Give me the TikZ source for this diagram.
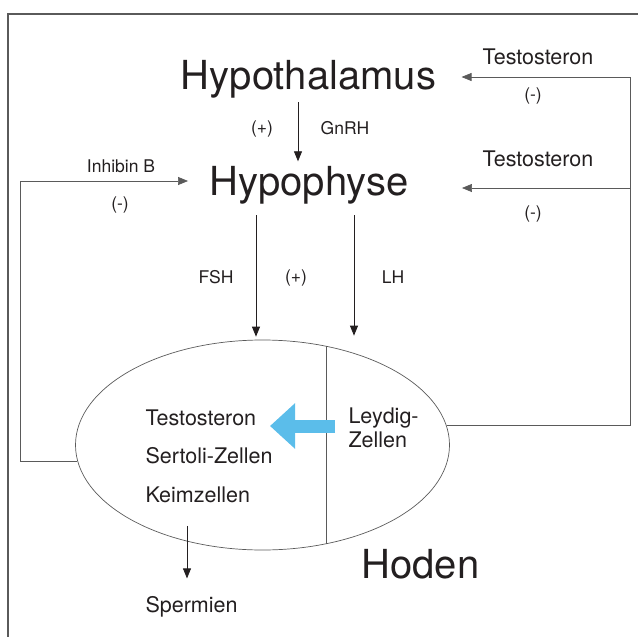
\documentclass[tikz,border=0pt]{standalone}
\usepackage{fontspec}
\setmainfont{TeX Gyre Heros}
\usepackage{xcolor}
\usetikzlibrary{arrows.meta,shapes.geometric}
\definecolor{ink}{HTML}{231F20}
\definecolor{rule}{HTML}{5A5A5A}
\definecolor{leyblue}{HTML}{5BBDEA}
\tikzset{
  organ/.style={text=ink, font=\fontsize{40}{45}\selectfont, anchor=base},
  cell/.style={text=ink, font=\fontsize{21.5}{24}\selectfont, anchor=base west, align=left},
  labm/.style={text=ink, font=\fontsize{17.5}{20}\selectfont},
  arr/.style={draw=ink, line width=0.8pt, -{Triangle[length=10pt,width=8pt]}},
  fb/.style={draw=rule, line width=0.7pt},
  frame/.style={draw=rule, line width=1.3pt},
  bigarr/.style={draw=leyblue, line width=13pt, -{Triangle[length=25pt,width=44pt]}}
}

\begin{document}
\begin{tikzpicture}[x=1pt,y=-1pt]
  \useasboundingbox (0,0) rectangle (638,637);
  \draw[frame] (8,637) -- (8,14) -- (638,14);

  % organs
  \node[organ] (hypothalamus) at (308.5,89) {Hypothalamus};
  \node[organ] (hypophyse) at (309,195) {Hypophyse};
  \node[draw=rule, line width=0.7pt, ellipse, minimum width=374pt,
        minimum height=210pt, inner sep=0pt] (hoden) at (262.5,445) {};
  \node[organ, anchor=base west] (hodenlab) at (358,578) {Hoden};
  \draw[fb] (hoden.57.7) -- (hoden.-57.7);

  % cells
  \node[cell] (testo) at (142,425) {Testosteron};
  \node[cell] (sertoli) at (142,463) {Sertoli-Zellen};
  \node[cell] (keim) at (142,502) {Keimzellen};
  \node[cell] (leydig) at (345,447) {Leydig-\\Zellen};
  \node[cell] (sperm) at (142,612) {Spermien};

  % hormones
  \coordinate (gx) at (298,0);
  \coordinate (fx) at (256,0);
  \coordinate (lx) at (354,0);
  \coordinate (sx) at (187,0);
  \draw[arr, shorten <=1pt, shorten >=1pt] (hypothalamus.south -| gx) -- (hypophyse.north -| gx);
  \draw[arr, shorten <=8pt, shorten >=3pt] (hypophyse.south -| fx) -- (hoden.north -| fx);
  \draw[arr, shorten <=8pt, shorten >=4pt] (hypophyse.south -| lx) -- (hoden.north -| lx);
  \draw[arr, shorten <=20pt, shorten >=14pt] (keim.south -| sx) -- (sperm.north -| sx);

  \node[labm] (plus1) at (262,129) {(+)};
  \node[labm] (gnrh) at (345,128) {GnRH};
  \node[labm] (fsh) at (216,277) {FSH};
  \node[labm] (plus2) at (296,278) {(+)};
  \node[labm] (lh) at (393,277) {LH};

  % feedback
  \coordinate (inhc) at (20,181);
  \coordinate (tr) at (630,77);
  \coordinate (tm) at (630,188);
  \draw[fb] (hoden.185) -| (inhc);
  \draw[arr, draw=rule, line width=0.7pt, shorten >=18pt] (inhc) -- (inhc -| hypophyse.west);
  \draw[fb] (hoden.6) -| (tr);
  \draw[arr, draw=rule, line width=0.7pt, shorten >=22pt] (tr) -- (tr -| hypothalamus.east);
  \draw[arr, draw=rule, line width=0.7pt, shorten >=50pt] (tm) -- (tm -| hypophyse.east);

  \node[labm] (inhib) at (121,166) {Inhibin B};
  \node[labm] (minus1) at (120,205) {(-)};
  \node[cell, anchor=center] (testo1) at (538,57) {Testosteron};
  \node[labm] (minus2) at (533,96) {(-)};
  \node[cell, anchor=center] (testo2) at (538,159) {Testosteron};
  \node[labm] (minus3) at (533,214) {(-)};

  % Leydig -> Testosteron
  \coordinate (bl) at (335,426);
  \coordinate (bt) at (270,426);
  \draw[bigarr] (bl) -- (bt);
\end{tikzpicture}
\end{document}
